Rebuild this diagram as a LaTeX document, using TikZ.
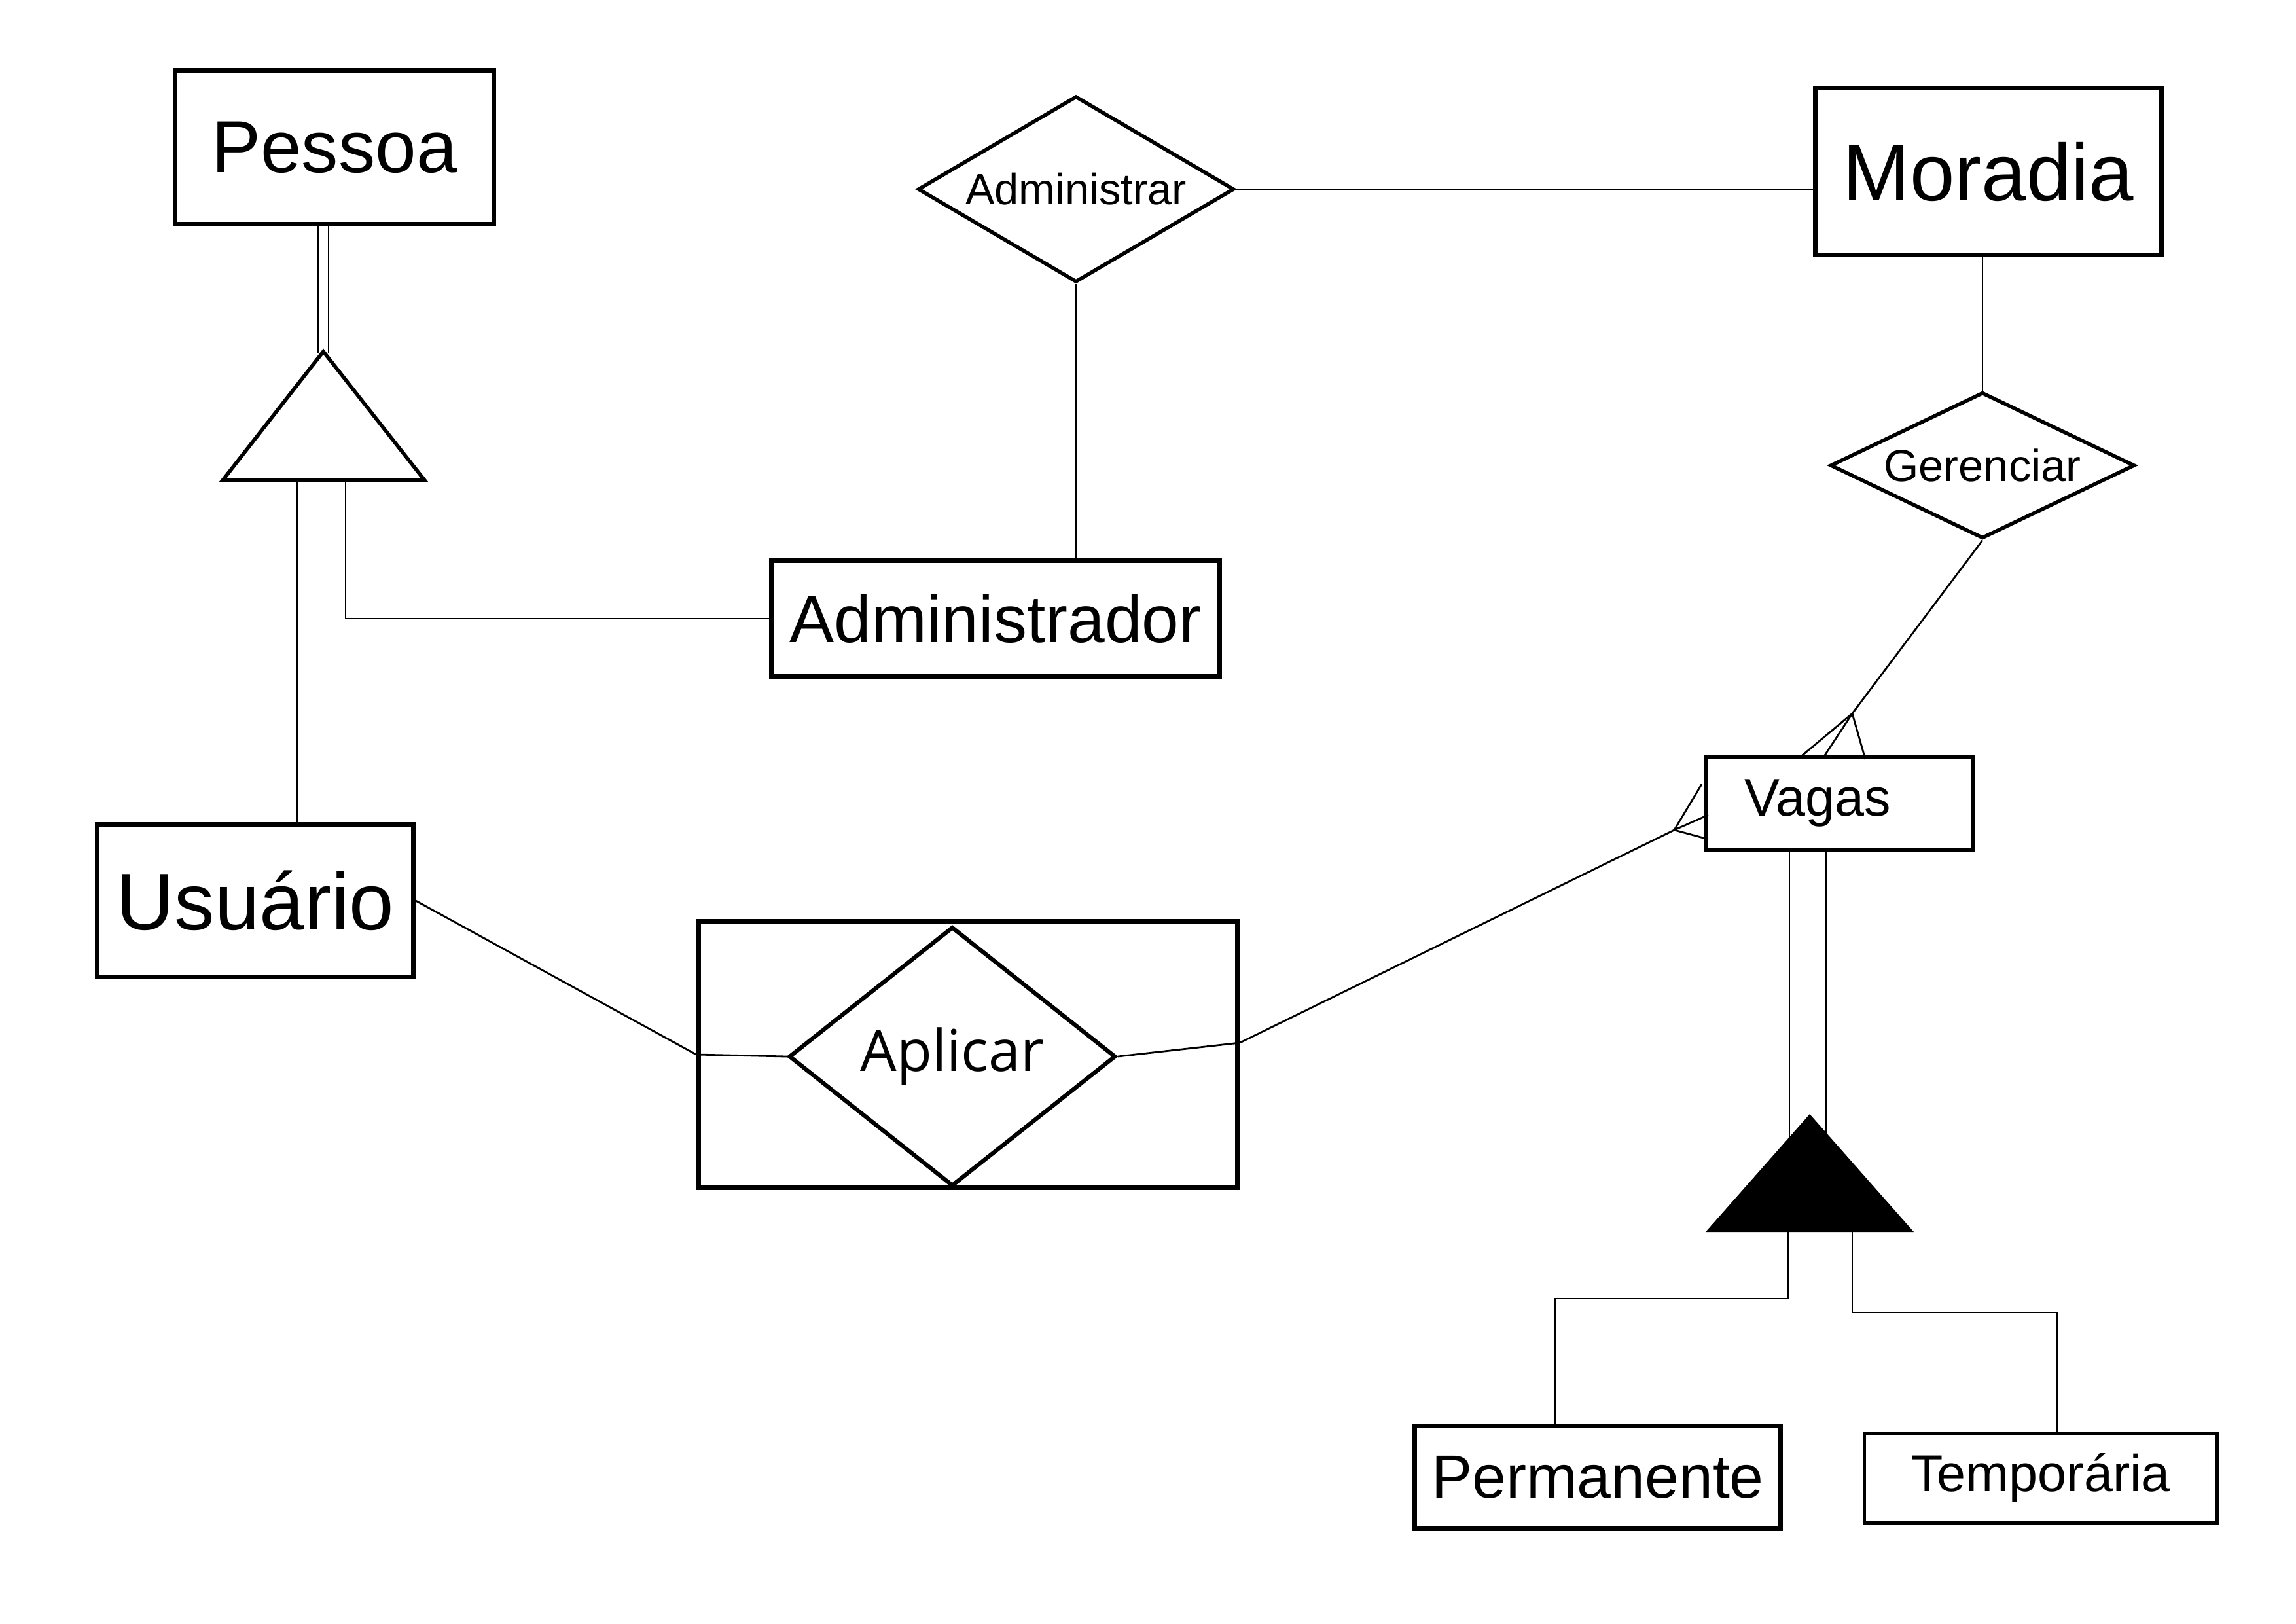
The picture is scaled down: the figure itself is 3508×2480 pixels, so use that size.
\documentclass[tikz,border=0pt]{standalone}
\usepackage{fontspec}
\setmainfont{Liberation Sans}
\newfontfamily\aplicarfont{Open Sans}
\usetikzlibrary{positioning,shapes.geometric}

\begin{document}
\begin{tikzpicture}[
			x=0.01cm, y=-0.01cm,
			entity/.style={rectangle, draw, line width=2pt, inner sep=0pt},
			relation/.style={diamond, draw, line width=1.6pt, inner sep=0pt},
			isa/.style={line width=1.6pt, line join=miter},
			link/.style={line width=0.8pt}
			]
			\useasboundingbox (0,0) rectangle (3508,2480);
			
			% entities
			\node[entity, minimum width=4.86cm, minimum height=2.35cm, font=\fontsize{32pt}{32pt}\selectfont] (pessoa) at (511,225) {Pessoa};
			\node[entity, minimum width=5.28cm, minimum height=2.55cm, font=\fontsize{35pt}{35pt}\selectfont] (moradia) at (3038,262) {Moradia};
			\node[entity, minimum width=6.85cm, minimum height=1.77cm, font=\fontsize{29pt}{29pt}\selectfont] (admin) at (1521,945) {Administrador};
			\node[entity, minimum width=4.83cm, minimum height=2.32cm, font=\fontsize{35pt}{35pt}\selectfont] (usuario) at (390,1376) {Usuário};
			\node[entity, line width=1.7pt, minimum width=4.07cm, minimum height=1.41cm, font=\fontsize{23pt}{23pt}\selectfont] (vagas) at (2810,1227) {\hspace*{-0.65cm}Vagas};
			\node[entity, minimum width=5.59cm, minimum height=1.57cm, font=\fontsize{26.5pt}{26.5pt}\selectfont] (permanente) at (2441,2257) {Permanente};
			\node[entity, line width=1.4pt, minimum width=5.39cm, minimum height=1.37cm, font=\fontsize{22.5pt}{22.5pt}\selectfont] (temporaria) at (3118,2258) {Temporária};
			
			% relationships
			\node[relation, aspect=1.7, minimum width=4.83cm, minimum height=2.84cm, font=\fontsize{19pt}{19pt}\selectfont] (administrar) at (1644,289) {Administrar};
			\node[relation, aspect=2.09, minimum width=4.65cm, minimum height=2.23cm, font=\fontsize{19.5pt}{19.5pt}\selectfont] (gerenciar) at (3029,711) {Gerenciar};
			\node[entity, minimum width=8.23cm, minimum height=4.07cm] (aplicarbox) at (1479,1611) {};
			\node[relation, aspect=1.26, line width=1.8pt, minimum width=4.99cm, minimum height=3.96cm, font=\aplicarfont\fontsize{25pt}{25pt}\selectfont] (aplicar) at (1455,1614) {Aplicar};
			
			% generalizacao de Pessoa
			\coordinate (isaPtop) at (494,537);
			\coordinate (isaPleft) at (340,734);
			\coordinate (isaPright) at (649,734);
			\coordinate (isaPdl) at (486,540);
			\coordinate (isaPdr) at (502,540);
			\coordinate (isaPa) at (454,734);
			\coordinate (isaPb) at (528,734);
			\draw[link] (isaPdl |- pessoa.south) -- (isaPdl);
			\draw[link] (isaPdr |- pessoa.south) -- (isaPdr);
			\draw[isa] (isaPtop) -- (isaPleft) -- (isaPright) -- cycle;
			\draw[link] (isaPa) -- (isaPa |- usuario.north);
			\draw[link] (isaPb) |- (admin.west);
			
			% Administrar
			\draw[link] (administrar.south) -- (administrar.south |- admin.north);
			\draw[link] (administrar.east) -- (administrar.east -| moradia.west);
			
			% Gerenciar
			\draw[link] (moradia.south -| gerenciar.north) -- (gerenciar.north);
			\coordinate (cfV) at (2830,1090);
			\coordinate (cfVa) at (2750,1157);
			\coordinate (cfVb) at (2786,1157);
			\coordinate (cfVc) at (2850,1160);
			\draw[link] (gerenciar.south) -- (cfV) -- (cfVb);
			\draw[link] (cfVa) -- (cfV) -- (cfVc);
			
			% Aplicar
			\coordinate (cfA) at (2558,1268);
			\coordinate (cfAa) at (2610,1245);
			\coordinate (cfAb) at (2610,1282);
			\coordinate (cfAc) at (2600,1198);
			\draw[link] (usuario.east) -- (aplicarbox.west) -- (aplicar.west);
			\draw[link] (aplicar.east) -- ([yshift=0.18cm]aplicarbox.east) -- (cfA) -- (cfAa);
			\draw[link] (cfAc) -- (cfA) -- (cfAb);
			
			% especializacao de Vagas
			\coordinate (isaVtop) at (2765,1702);
			\coordinate (isaVleft) at (2606,1882);
			\coordinate (isaVright) at (2924,1882);
			\coordinate (isaVdl) at (2734,1745);
			\coordinate (isaVdr) at (2790,1745);
			\coordinate (isaVa) at (2732,1882);
			\coordinate (isaVb) at (2830,1882);
			\coordinate (pbend) at (2376,1984);
			\coordinate (tbend) at (3143,2005);
			\draw[link] (isaVdl |- vagas.south) -- (isaVdl);
			\draw[link] (isaVdr |- vagas.south) -- (isaVdr);
			\fill (isaVtop) -- (isaVleft) -- (isaVright) -- cycle;
			\draw[link] (isaVa) |- (pbend) -- (pbend |- permanente.north);
			\draw[link] (isaVb) |- (tbend) -- (tbend |- temporaria.north);
			
		\end{tikzpicture}
\end{document}
